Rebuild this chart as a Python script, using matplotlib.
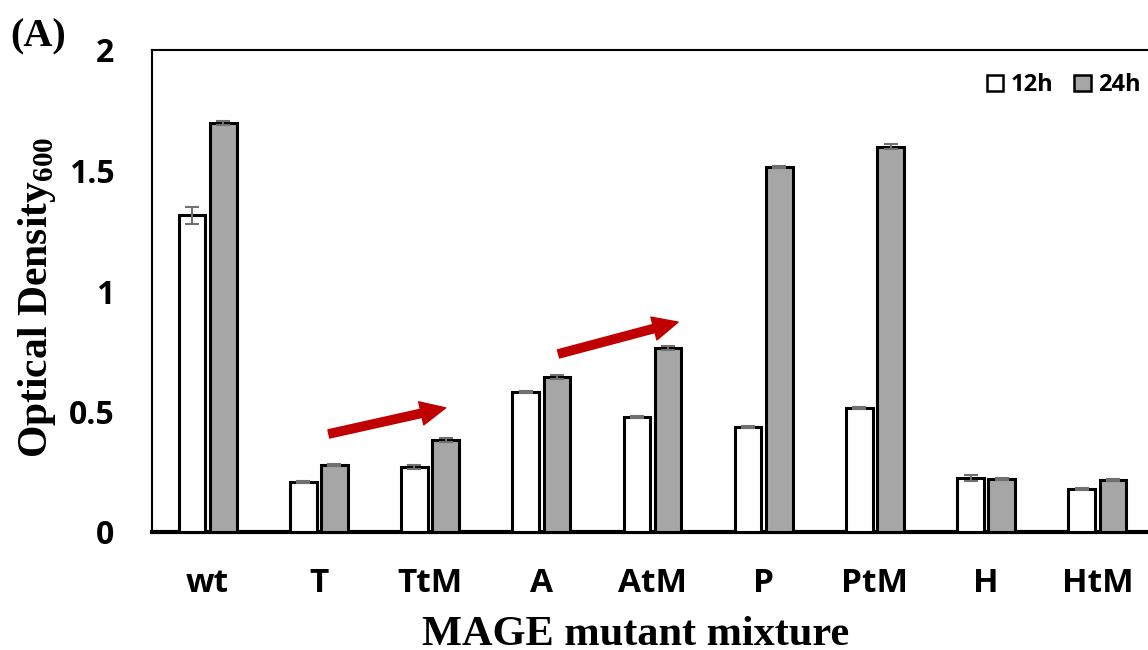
import matplotlib
matplotlib.use("Agg")
import matplotlib.pyplot as plt
import numpy as np

# ----------------------------------------------------
# Data
# ----------------------------------------------------

categories = ["wt", "T", "TtM", "A", "AtM", "P", "PtM", "H", "HtM"]

od_12h = [1.315, 0.207, 0.270, 0.580, 0.477, 0.436, 0.515, 0.224, 0.178]
err_12h = [0.035, 0.004, 0.010, 0.005, 0.005, 0.004, 0.005, 0.012, 0.005]

od_24h = [1.697, 0.278, 0.382, 0.643, 0.763, 1.515, 1.598, 0.220, 0.216]
err_24h = [0.010, 0.005, 0.008, 0.008, 0.008, 0.005, 0.010, 0.004, 0.004]

# red trend arrows: (x_start, y_start, x_end, y_end) in data coords
trend_arrows = [
    (1.09, 0.407, 2.14, 0.515),
    (3.155, 0.739, 4.23, 0.871),
]

# ----------------------------------------------------
# Plot
# ----------------------------------------------------

plt.rcParams["mathtext.fontset"] = "custom"
plt.rcParams["mathtext.bf"] = "Liberation Serif:bold"
plt.rcParams["mathtext.rm"] = "Liberation Serif"

fig = plt.figure(figsize=(11.48, 6.5), dpi=100)
ax = fig.add_axes([152 / 1148, 118 / 650, 1001 / 1148, 482 / 650])

x = np.arange(len(categories))
width = 0.24
offset = 0.14

err_kw = dict(ecolor="#707070", elinewidth=1.5, capsize=5, capthick=1.5)

ax.bar(x - offset, od_12h, width, yerr=err_12h, color="white",
       edgecolor="black", linewidth=2.2, error_kw=err_kw, label="12h", zorder=3)
ax.bar(x + offset, od_24h, width, yerr=err_24h, color="#A6A6A6",
       edgecolor="black", linewidth=2.2, error_kw=err_kw, label="24h", zorder=3)

for x0, y0, x1, y1 in trend_arrows:
    ax.annotate(
        "",
        xy=(x1, y1),
        xytext=(x0, y0),
        arrowprops=dict(
            arrowstyle="simple,head_length=0.9,head_width=0.85,tail_width=0.3",
            mutation_scale=20,
            color="#C00000",
            shrinkA=0,
            shrinkB=0,
        ),
        zorder=4,
    )

ax.set_xlim(-0.5, 8.5)
ax.set_ylim(0, 2)
ax.set_yticks([0, 0.5, 1, 1.5, 2])
ax.set_yticklabels(["0", "0.5", "1", "1.5", "2"])
ax.set_xticks(x)
ax.set_xticklabels(categories)

for lbl in ax.get_xticklabels():
    lbl.set_fontfamily("Open Sans")
    lbl.set_fontweight("bold")
    lbl.set_fontsize(24)
for lbl in ax.get_yticklabels():
    lbl.set_fontfamily("Open Sans")
    lbl.set_fontweight("bold")
    lbl.set_fontsize(23)

ax.tick_params(axis="y", length=0, pad=27)
ax.tick_params(axis="x", length=0, pad=25)

for side in ["left", "right", "top", "bottom"]:
    ax.spines[side].set_linewidth(1.5)
ax.spines["bottom"].set_linewidth(3)

ax.set_xlabel("MAGE mutant mixture", family="Liberation Serif",
              fontweight="bold", fontsize=30.5)
ax.xaxis.label.set_verticalalignment("baseline")
ax.xaxis.set_label_coords((636 - 152) / 1001, (650 - 645 - 118) / 482)

ax.set_ylabel(r"Optical Density$_{\mathbf{600}}$", family="Liberation Serif",
              fontweight="bold", fontsize=30)
ax.yaxis.set_label_coords((58 - 152) / 1001, (650 - 297 - 118) / 482)

fig.text(10 / 1148, 1 - 46 / 650, "(A)", family="Liberation Serif",
         fontweight="bold", fontsize=29)

leg = ax.legend(
    loc="upper right",
    bbox_to_anchor=(0.997, 0.971),
    ncol=2,
    frameon=False,
    borderaxespad=0,
    handlelength=0.7,
    handleheight=0.7,
    handletextpad=0.3,
    columnspacing=0.9,
    prop=dict(family="Open Sans", weight="bold", size=17),
)
for h in leg.legend_handles:
    h.set_linewidth(1.8)

fig.savefig("out.png", dpi=100)
